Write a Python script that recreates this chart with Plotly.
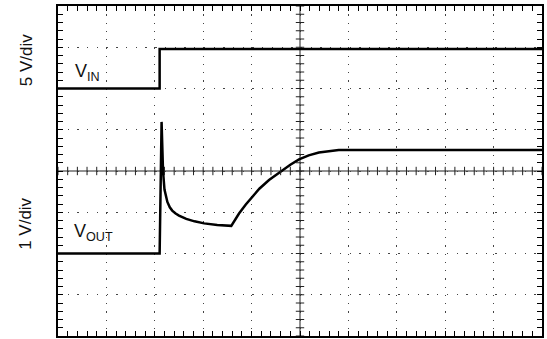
import numpy as np
import plotly.graph_objects as go

# time in divisions (10 div across), amplitude in divisions (8 div high)
vin_t = [0, 2.10, 2.10, 10]
vin_y = [6.0, 6.0, 6.96, 6.96]

vout_t = [0, 2.10, 2.14, 2.155, 2.17, 2.20, 2.23, 2.26, 2.31, 2.36, 2.43, 2.50, 2.65,
          2.82, 3.02, 3.29, 3.58, 3.66, 3.74, 3.88, 4.01, 4.16, 4.36, 4.50, 4.63,
          4.80, 4.98, 5.18, 5.39, 5.60, 5.80, 10]
vout_y = [2.0, 2.0, 5.19, 4.5, 4.0, 3.55, 3.38, 3.25, 3.12, 3.04, 2.97, 2.92, 2.84,
          2.78, 2.73, 2.69, 2.67, 2.83, 2.97, 3.19, 3.38, 3.57, 3.78, 3.90, 4.0,
          4.15, 4.28, 4.38, 4.45, 4.49, 4.51, 4.51]

W, H = 547, 339
L, R, T, B = 58, 3, 6, 3
pw, ph = W - L - R, H - T - B
font = "Liberation Sans, Arial, sans-serif"

fig = go.Figure()

fig.add_trace(go.Scatter(x=vin_t, y=vin_y, mode="lines",
                         line=dict(color="black", width=2.5), showlegend=False))
fig.add_trace(go.Scatter(x=vout_t, y=vout_y, mode="lines",
                         line=dict(color="black", width=2.5), showlegend=False))

# small crosses along the centre axes
minor_x = np.arange(0, 10.01, 0.2)
minor_y = np.arange(0, 8.01, 0.2)
fig.add_trace(go.Scatter(x=minor_x, y=[4] * len(minor_x), mode="markers",
                         marker=dict(symbol="line-ns", size=6, line=dict(width=1, color="#222")),
                         hoverinfo="skip", showlegend=False))
fig.add_trace(go.Scatter(x=[5] * len(minor_y), y=minor_y, mode="markers",
                         marker=dict(symbol="line-ew", size=6, line=dict(width=1, color="#222")),
                         hoverinfo="skip", showlegend=False))

fig.add_shape(type="line", x0=0, x1=10, y0=4, y1=4, layer="below",
              line=dict(color="#222", width=1))
fig.add_shape(type="line", x0=5, x1=5, y0=0, y1=8, layer="below",
              line=dict(color="#222", width=1))

fig.add_annotation(x=0.31, y=6.40, text="V<sub>IN</sub>", showarrow=False,
                   xanchor="left", yanchor="middle", font=dict(family=font, size=18, color="#111"))
fig.add_annotation(x=0.29, y=2.52, text="V<sub>OUT</sub>", showarrow=False,
                   xanchor="left", yanchor="middle", font=dict(family=font, size=18, color="#111"))

fig.add_annotation(xref="paper", yref="paper", x=-0.066, y=0.836, text="5 V/div",
                   xanchor="center", yanchor="middle",
                   textangle=-90, showarrow=False, font=dict(family=font, size=17, color="#111"))
fig.add_annotation(xref="paper", yref="paper", x=-0.066, y=0.34, text="1 V/div",
                   xanchor="center", yanchor="middle",
                   textangle=-90, showarrow=False, font=dict(family=font, size=17, color="#111"))

fig.update_xaxes(
    range=[0, 10], dtick=1, showticklabels=False, zeroline=False,
    showline=True, linewidth=2, linecolor="black", mirror="ticks",
    ticks="inside", ticklen=5, tickcolor="black", tickwidth=1,
    minor=dict(dtick=0.2, ticks="inside", ticklen=5, tickcolor="black", tickwidth=1, showgrid=False),
    showgrid=True, gridcolor="#444", gridwidth=1.3,
    griddash="1.3px,%.3fpx" % (ph / 40 - 1.3),
)
fig.update_yaxes(
    range=[0, 8], dtick=1, showticklabels=False, zeroline=False,
    showline=True, linewidth=2, linecolor="black", mirror="ticks",
    ticks="inside", ticklen=5, tickcolor="black", tickwidth=1,
    minor=dict(dtick=0.2, ticks="inside", ticklen=5, tickcolor="black", tickwidth=1, showgrid=False),
    showgrid=True, gridcolor="#444", gridwidth=1.3,
    griddash="1.3px,%.3fpx" % (pw / 50 - 1.3),
)

fig.update_layout(
    width=W, height=H,
    margin=dict(l=L, r=R, t=T, b=B),
    plot_bgcolor="white", paper_bgcolor="white",
    font=dict(family=font),
)

fig.write_html("out.html", config={"displayModeBar": False},
               post_script="document.body.style.margin='0';")
